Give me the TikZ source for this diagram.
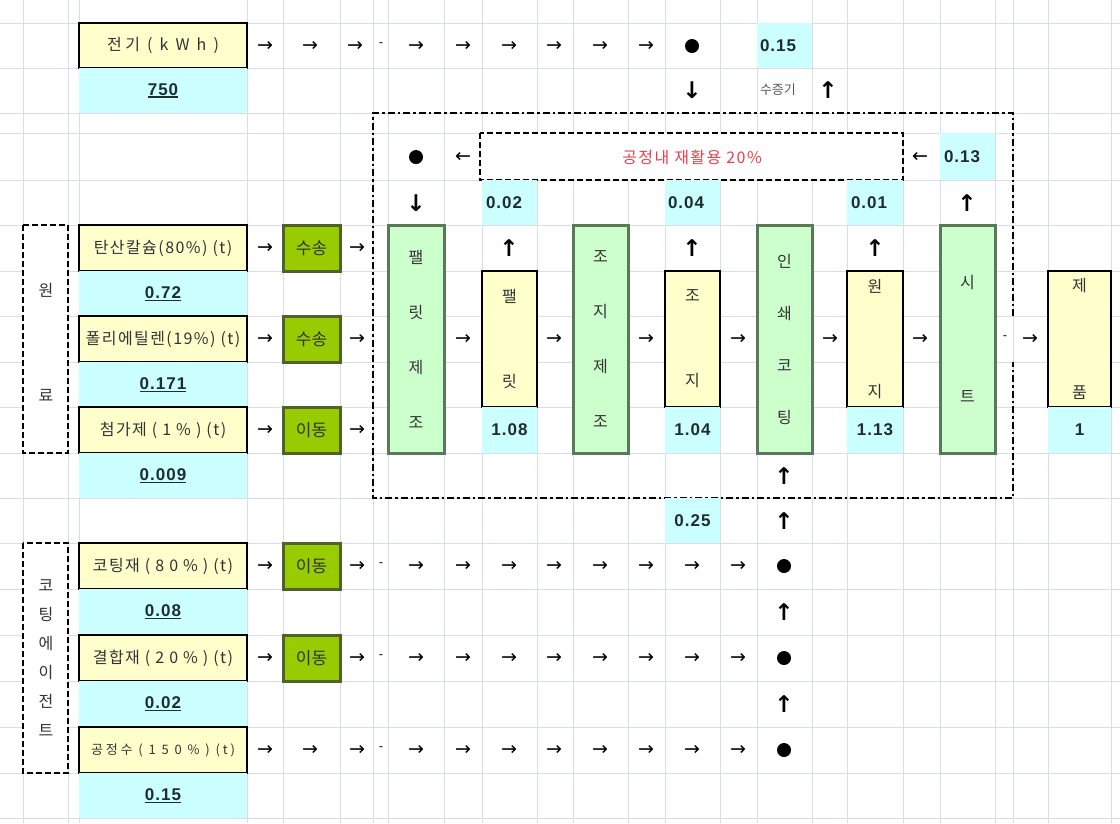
\documentclass[tikz,border=0pt]{standalone}
\usepackage{fontspec}
\setmainfont{Noto Sans CJK KR}
\newfontfamily\numfont{Liberation Sans}[LetterSpace=6]
\newfontfamily\symfont{DejaVu Sans}
\newfontfamily\spkr{Noto Sans CJK KR}[LetterSpace=9]
\newfontfamily\spkrw{Noto Sans CJK KR}[LetterSpace=22]
\usetikzlibrary{arrows.meta}
\definecolor{gridc}{HTML}{D9DDE8}
\definecolor{ylw}{HTML}{FFFFCC}
\definecolor{cyn}{HTML}{CCFFFF}
\definecolor{lgrn}{HTML}{CCFFCC}
\definecolor{grnbd}{HTML}{5A785A}
\definecolor{olive}{HTML}{99CC00}
\definecolor{olivebd}{HTML}{4F6228}
\definecolor{redt}{HTML}{E8414A}
\definecolor{txt}{HTML}{333333}
\definecolor{numc}{HTML}{1E2E2E}
\newcommand\cbox[7]{\node[#2, minimum width={(#5-#3)*1pt}, minimum height={(#6-#4)*1pt}] (#1) at ({(#3+#5)/2},{(#4+#6)/2}) {#7};}
\newcommand\uln[1]{\setbox0\hbox{#1}\rlap{\raisebox{-2.8pt}{\rule{\wd0}{1.4pt}}}\box0}
\tikzset{
 every node/.style={inner sep=0pt, outer sep=0pt},
 gridline/.style={draw=gridc, line width=0.9pt},
 lab/.style={draw=black, line width=2.4pt, fill=ylw, font=\spkr\fontsize{16}{16}\selectfont, text=txt},
 tallbox/.style={draw=grnbd, line width=3pt, fill=lgrn, text=txt, align=center},
 prodbox/.style={draw=black, line width=2.4pt, fill=ylw, text=txt, align=center},
 trans/.style={draw=olivebd, line width=3pt, fill=olive, font=\fontsize{17}{17}\selectfont, text=txt},
 cyancell/.style={fill=cyn},
 num/.style={font=\numfont\bfseries\fontsize{17}{17}\selectfont, text=numc},
 gl/.style={font=\symfont\fontsize{19}{19}\selectfont},
 gv/.style={font=\symfont\bfseries\fontsize{23}{23}\selectfont},
 dsh/.style={font=\symfont\fontsize{12}{12}\selectfont},
 dot/.style={circle, fill=black, minimum size=14pt},
 dashdot/.style={line width=2.2pt, dash pattern=on 7pt off 3pt on 2.5pt off 3pt},
 dashbox/.style={line width=2.2pt, dash pattern=on 6pt off 3pt},
}
\begin{document}
\begin{tikzpicture}[x=1pt,y=-1pt]
\useasboundingbox[fill=white] (0,0) rectangle (1120,823);
% grid
\foreach \gx in {23,68,79,247,283,340,373,388,444,482,537,573,628,665,720,757,812,847,903,940,995,1013,1048,1111}
  \draw[gridline] (\gx,0) -- (\gx,823);
\foreach \gy in {23,68,113,133,180,225,271,316,362,407,453,498,543,589,635,681,727,773,818}
  \draw[gridline] (0,\gy) -- (1120,\gy);

% ---------- top: electricity ----------
\cbox{elec}{lab, font=\spkrw\fontsize{16}{16}\selectfont}{79}{23}{247}{68}{전기 ( k W h )}
\cbox{elecv}{cyancell}{79}{68}{247}{113}{}
\node[num] (elecn) at (163,90.5) {\uln{750}};
\foreach \x [count=\i] in {265,310,355,416,463,509,554,600,646}
  \node[gl] (ea\i) at (\x,46) {→};
\node[dsh] (ed) at (381,45) {-};
\node[dot] (edot) at (692,46) {};
\node[gv] (edown) at (692,90) {↓};
\cbox{steamc}{cyancell}{757}{23}{812}{68}{}
\node[num, anchor=west] (steamn) at (760,46) {0.15};
\node[anchor=west, font=\fontsize{13}{13}\selectfont, text=black!65] (steam) at (760,90) {수증기};
\node[gv] (sup) at (828,90) {↑};

% ---------- recycle ----------
\node[dot] (rdot) at (416,157) {};
\node[gl] (rl1) at (463,157) {←};
\cbox{recyc}{fill=white}{480}{133}{903}{180}{}
\draw[dashbox] (recyc.north west) rectangle (recyc.south east);
\node[font=\spkr\fontsize{16}{16}\selectfont, text=redt] (rtext) at (692,157) {공정내 재활용 20\%};
\node[gl] (rl2) at (920,157) {←};
\cbox{rc}{cyancell}{940}{133}{995}{180}{}
\node[num, anchor=west] (rcn) at (944,157) {0.13};
\node[gv] (rdown) at (416,203) {↓};
\cbox{l1c}{cyancell}{482}{180}{537}{225}{}
\node[num, anchor=west] (l1n) at (486,203) {0.02};
\cbox{l2c}{cyancell}{665}{180}{720}{225}{}
\node[num, anchor=west] (l2n) at (668,203) {0.04};
\cbox{l3c}{cyancell}{847}{180}{903}{225}{}
\node[num, anchor=west] (l3n) at (851,203) {0.01};
\node[gv] (rup) at (967,203) {↑};

% ---------- process boxes ----------
\cbox{p1}{tallbox, font=\fontsize{16}{55}\selectfont}{388}{225}{444}{453}{팰\\릿\\제\\조}
\cbox{p2}{prodbox, font=\fontsize{16}{85}\selectfont}{482}{271}{537}{407}{팰\\릿}
\cbox{p3}{tallbox, font=\fontsize{16}{55}\selectfont}{573}{225}{628}{453}{조\\지\\제\\조}
\cbox{p4}{prodbox, font=\fontsize{16}{85}\selectfont}{665}{271}{720}{407}{조\\지}
\cbox{p5}{tallbox, font=\fontsize{16}{52}\selectfont}{757}{225}{812}{453}{인\\쇄\\코\\팅}
\cbox{p6}{prodbox, font=\fontsize{16}{105}\selectfont}{847}{271}{903}{407}{원\\지}
\cbox{p7}{tallbox, font=\fontsize{16}{114}\selectfont}{940}{225}{995}{453}{시\\트}
\cbox{p8}{prodbox, font=\fontsize{16}{107}\selectfont}{1048}{271}{1111}{407}{제\\품}
\cbox{q2}{cyancell, num}{482}{407}{537}{453}{1.08}
\cbox{q4}{cyancell, num}{665}{407}{720}{453}{1.04}
\cbox{q6}{cyancell, num}{847}{407}{903}{453}{1.13}
\cbox{q8}{cyancell, num}{1048}{407}{1111}{453}{1}
\node[gv] (u2) at (509,248) {↑};
\node[gv] (u4) at (692,248) {↑};
\node[gv] (u6) at (875,248) {↑};
\foreach \x [count=\i] in {463,554,646,738,830,920,1030}
  \node[gl] (pa\i) at (\x,339) {→};
\node[dsh] (pd) at (1005,338) {-};

% ---------- outer dash-dot box ----------
\draw[dashdot] (1013,316) -- (1013,113) -- (373,113) -- (373,498) -- (1013,498) -- (1013,362);

% ---------- raw materials ----------
\cbox{rawg}{fill=white}{23}{225}{68}{453}{}
\draw[dashbox] (rawg.north west) rectangle (rawg.south east);
\node[font=\fontsize{16}{105}\selectfont, align=center, text=txt] (rawt) at (46,342) {원\\료};
\cbox{m1}{lab}{79}{225}{247}{271}{탄산칼슘(80\%) (t)}
\cbox{m1v}{cyancell}{79}{271}{247}{316}{}
\node[num] (m1n) at (163,294) {\uln{0.72}};
\cbox{m2}{lab}{79}{316}{247}{362}{폴리에틸렌(19\%) (t)}
\cbox{m2v}{cyancell}{79}{362}{247}{407}{}
\node[num] (m2n) at (163,385) {\uln{0.171}};
\cbox{m3}{lab}{79}{407}{247}{453}{첨가제 ( 1 \% ) (t)}
\cbox{m3v}{cyancell}{79}{453}{247}{498}{}
\node[num] (m3n) at (163,476) {\uln{0.009}};
\cbox{t1}{trans}{283}{225}{340}{271}{수송}
\cbox{t2}{trans}{283}{316}{340}{362}{수송}
\cbox{t3}{trans}{283}{407}{340}{453}{이동}
\foreach \y [count=\i] in {248,339,430} {
  \node[gl] (ma\i) at (265,\y) {→};
  \node[gl] (mb\i) at (357,\y) {→};
}
\node[gv] (cu1) at (784,476) {↑};
\node[gv] (cu2) at (784,521) {↑};
\cbox{c25}{cyancell, num}{665}{498}{720}{543}{0.25}

% ---------- coating agents ----------
\cbox{coatg}{fill=white}{23}{543}{68}{773}{}
\draw[dashbox] (coatg.north west) rectangle (coatg.south east);
\node[font=\fontsize{16}{29}\selectfont, align=center, text=txt] (coatt) at (46,658) {코\\팅\\에\\이\\전\\트};
\cbox{k1}{lab}{79}{543}{247}{589}{코팅재 ( 8 0 \% ) (t)}
\cbox{k1v}{cyancell}{79}{589}{247}{635}{}
\node[num] (k1n) at (163,612) {\uln{0.08}};
\cbox{k2}{lab}{79}{635}{247}{681}{결합재 ( 2 0 \% ) (t)}
\cbox{k2v}{cyancell}{79}{681}{247}{727}{}
\node[num] (k2n) at (163,704) {\uln{0.02}};
\cbox{k3}{lab, font=\spkrw\fontsize{13}{13}\selectfont}{79}{727}{247}{773}{공정수 ( 1 5 0 \% ) (t)}
\cbox{k3v}{cyancell}{79}{773}{247}{818}{}
\node[num] (k3n) at (163,796) {\uln{0.15}};
\cbox{t4}{trans}{283}{543}{340}{589}{이동}
\cbox{t5}{trans}{283}{635}{340}{681}{이동}
\node[gl] (ka1) at (265,566) {→};
\node[gl] (ka2) at (265,658) {→};
\node[gl] (ka3) at (265,750) {→};
\node[gl] (kb3) at (310,750) {→};
\foreach \y [count=\j] in {566,658,750} {
  \node[gl] (kc\j) at (357,\y) {→};
  \node[dsh] (kd\j) at (381,\y-1) {-};
  \foreach \x [count=\i] in {416,463,509,554,600,646,692,738}
    \node[gl] (k\j a\i) at (\x,\y) {→};
  \node[dot] (kdot\j) at (784,\y) {};
}
\node[gv] (cu3) at (784,612) {↑};
\node[gv] (cu4) at (784,704) {↑};
\end{tikzpicture}
\end{document}
